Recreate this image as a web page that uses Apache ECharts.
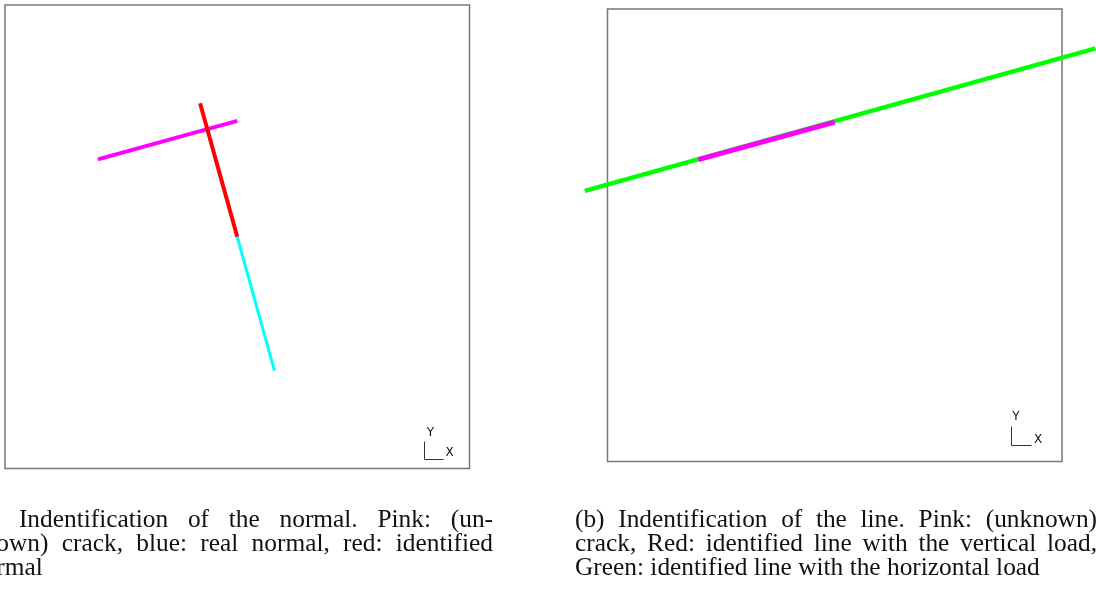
<!DOCTYPE html>
<html>
<head>
<meta charset="utf-8">
<title>Crack identification</title>
<script src="https://cdn.jsdelivr.net/npm/echarts@6/dist/echarts.min.js"></script>
<style>
  html, body { margin: 0; padding: 0; background: #fff; }
  #chart { width: 1096px; height: 589px; }
</style>
</head>
<body>
<div id="chart"></div>
<script>
// Panel coordinates: the square specimen spans 0..10 in x and y.

// (a) normal identification
const crackA = [[2.0, 6.67], [5.0, 7.5]];            // pink: unknown crack
const realNormal = [[5.0, 5.0], [5.8, 2.11]];        // cyan: real normal
const identifiedNormal = [[4.2, 7.88], [5.0, 5.0]];  // red: identified normal

// (b) line identification
const horizontalLoadLine = [[-0.5, 5.98], [10.74, 9.13]]; // green, runs past the specimen
const crackB = [[2.0, 6.67], [5.0, 7.5]];                 // pink: unknown crack

const captionA = [
  "(a) Indentification of the normal. Pink: (un-",
  "known) crack, blue: real normal, red: identified",
  "normal"
];
const captionB = [
  "(b) Indentification of the line. Pink: (unknown)",
  "crack, Red: identified line with the vertical load,",
  "Green: identified line with the horizontal load"
];
const triadLabels = ["Y", "X"];

const chart = echarts.init(document.getElementById('chart'), null, { renderer: 'canvas' });

const SERIF = '"Liberation Serif", "DejaVu Serif", serif';
const measureCtx = document.createElement('canvas').getContext('2d');
function textWidth(str, size) {
  measureCtx.font = size + 'px ' + SERIF;
  return measureCtx.measureText(str).width;
}

// caption font size: the last (unjustified) line of (b) runs 575 -> 1040 px
const captionSize = 465 * 100 / textWidth(captionB[2], 100);
const colWidth = 522;

function captionLine(str, x0, y, justify) {
  const words = str.split(' ');
  const widths = words.map(w => textWidth(w, captionSize));
  const total = widths.reduce((a, b) => a + b, 0);
  const gap = justify && words.length > 1
    ? (colWidth - total) / (words.length - 1)
    : textWidth(' ', captionSize);
  const out = [];
  let x = x0;
  words.forEach((w, i) => {
    out.push({
      type: 'text', silent: true,
      style: {
        text: w, x: x, y: y, fill: '#111',
        font: captionSize + 'px ' + SERIF,
        textAlign: 'left', textVerticalAlign: 'middle'
      }
    });
    x += widths[i] + gap;
  });
  return out;
}

const lineY = [520, 544, 568];
const colA = 493 - colWidth;
const colB = 575;
let captionEls = [];
captionA.forEach((s, i) => { captionEls = captionEls.concat(captionLine(s, colA, lineY[i], i < 2)); });
captionB.forEach((s, i) => { captionEls = captionEls.concat(captionLine(s, colB, lineY[i], i < 2)); });

// small orientation triad in the lower right of each panel
function triad(x, yTop, yBottom, xRight, yLabel, xLabel) {
  const font = '12px "DejaVu Sans", sans-serif';
  return [
    { type: 'polyline', silent: true,
      shape: { points: [[x, yTop], [x, yBottom], [xRight, yBottom]] },
      style: { stroke: '#333', lineWidth: 1, fill: null } },
    { type: 'text', silent: true,
      style: { text: triadLabels[0], x: yLabel[0], y: yLabel[1], fill: '#111',
               font: font, textAlign: 'center', textVerticalAlign: 'middle' } },
    { type: 'text', silent: true,
      style: { text: triadLabels[1], x: xLabel[0], y: xLabel[1], fill: '#111',
               font: font, textAlign: 'center', textVerticalAlign: 'middle' } }
  ];
}

const triadEls = []
  .concat(triad(424.5, 441.5, 459.5, 443.5, [430.5, 433], [449.5, 452.5]))
  .concat(triad(1011.5, 426.5, 445.5, 1031.5, [1016, 416.5], [1038, 439.5]));

function axis(i, min, max) {
  return { type: 'value', gridIndex: i, min: min, max: max, show: false };
}

function seg(data, color, width, gi) {
  return {
    type: 'line', data: data, xAxisIndex: gi, yAxisIndex: gi,
    symbol: 'none', clip: false, silent: true, animation: false,
    lineStyle: { color: color, width: width, cap: 'butt' }
  };
}

// right specimen box: 607.5 .. 1062 px wide for x = 0..10
const bLeft = 607.5, bWidth = 454.5, bTop = 9, bHeight = 452.5;
const bUnit = bWidth / 10;
// the wider frame for (b) reaches from x = -1 to the right edge of the page
const wideMin = -1, wideMax = 10.74;

chart.setOption({
  backgroundColor: '#fff',
  animation: false,
  grid: [
    { left: 5, top: 5, width: 464.5, height: 463.5, show: true,
      borderColor: '#777', borderWidth: 1.5, backgroundColor: 'transparent' },
    { left: bLeft, top: bTop, width: bWidth, height: bHeight, show: true,
      borderColor: '#777', borderWidth: 1.5, backgroundColor: 'transparent' },
    { left: bLeft + wideMin * bUnit, top: bTop,
      width: (wideMax - wideMin) * bUnit, height: bHeight, show: false }
  ],
  xAxis: [axis(0, 0, 10), axis(1, 0, 10), axis(2, wideMin, wideMax)],
  yAxis: [axis(0, 0, 10), axis(1, 0, 10), axis(2, 0, 10)],
  series: [
    seg(crackA, '#ff00ff', 4, 0),
    seg(realNormal, '#00ffff', 3, 0),
    seg(identifiedNormal, '#ff0000', 4, 0),
    seg(horizontalLoadLine, '#00ff00', 4.5, 2),
    seg(crackB, '#ff00ff', 5, 2)
  ],
  graphic: triadEls.concat(captionEls)
});
</script>
</body>
</html>
